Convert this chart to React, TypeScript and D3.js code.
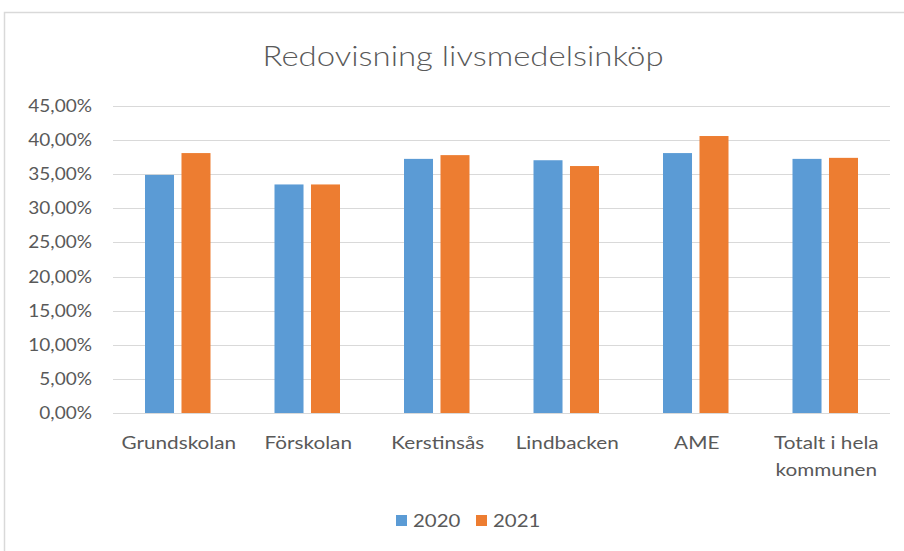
import React from "react";
import * as d3 from "d3";

const categories = ["Grundskolan", "Förskolan", "Kerstinsås", "Lindbacken", "AME", "Totalt i hela kommunen"];
const categoryLines = [["Grundskolan"], ["Förskolan"], ["Kerstinsås"], ["Lindbacken"], ["AME"], ["Totalt i hela", "kommunen"]];
const seriesNames = ["2020", "2021"];
const values2020 = [0.349, 0.335, 0.3725, 0.3705, 0.381, 0.3725];
const values2021 = [0.381, 0.335, 0.378, 0.362, 0.406, 0.374];
const yTicks = [0, 0.05, 0.1, 0.15, 0.2, 0.25, 0.3, 0.35, 0.4, 0.45];
const title = "Redovisning livsmedelsinköp";

const colors = ["#5B9BD5", "#ED7D31"];
const FONT = "Lato, 'Open Sans', sans-serif";

function SText(props: { x: number; y: number; sx: number; anchor: string; size: number; weight?: number; children: React.ReactNode }) {
  return (
    <g transform={`translate(${props.x},${props.y}) scale(${props.sx},1)`}>
      <text x={0} y={0} dy="0.35em" textAnchor={props.anchor as any} fontSize={props.size} fontWeight={props.weight ?? 400} fill="#595959">{props.children}</text>
    </g>
  );
}

export default function App() {
  const W = 904, H = 551;
  const left = 113, right = 890, top = 106, bottom = 413;
  const x0 = d3.scaleBand<string>().domain(categories).range([left, right]).padding(0);
  const x1 = d3.scaleBand<string>().domain(seriesNames).range([0, x0.bandwidth()]).paddingInner(0.205).paddingOuter(0.877);
  const y = d3.scaleLinear().domain([0, 0.45]).range([bottom, top]);
  const fmt = (v: number) => (v * 100).toFixed(2).replace(".", ",") + "%";
  const data = [values2020, values2021];

  return (
    <svg width={W} height={H} style={{ position: "absolute", left: 0, top: 0, background: "#fff" }} fontFamily={FONT}>
      <rect x={0} y={0} width={W} height={H} fill="#fff" />
      <rect x={4.5} y={12.5} width={1000} height={1000} fill="#fff" stroke="#D9D9D9" strokeWidth={1.5} />
      <SText x={463} y={57} sx={1.22} anchor="middle" size={27} weight={300}>{title}</SText>
      {yTicks.map((t) => (
        <g key={t}>
          <line x1={left} x2={right} y1={Math.round(y(t)) + 0.5} y2={Math.round(y(t)) + 0.5} stroke="#D9D9D9" strokeWidth={1.2} />
          <SText x={92} y={y(t)} sx={1.12} anchor="end" size={17}>{fmt(t)}</SText>
        </g>
      ))}
      {categories.map((c, i) => (
        <g key={c}>
          {seriesNames.map((s, j) => (
            <rect
              key={s}
              x={(x0(c) as number) + (x1(s) as number)}
              y={y(data[j][i])}
              width={x1.bandwidth()}
              height={y(0) - y(data[j][i])}
              fill={colors[j]}
            />
          ))}
          {categoryLines[i].map((ln, k) => (
            <SText key={k} x={(x0(c) as number) + x0.bandwidth() / 2 + 1} y={443 + k * 27} sx={1.22} anchor="middle" size={17}>{ln}</SText>
          ))}
        </g>
      ))}
      <line x1={left} x2={right} y1={413.5} y2={413.5} stroke="#D9D9D9" strokeWidth={1.2} />
      {seriesNames.map((s, j) => (
        <g key={s} transform={`translate(${j === 0 ? 396 : 476},0)`}>
          <rect x={0} y={515} width={11} height={11} fill={colors[j]} />
          <SText x={17} y={521} sx={1.2} anchor="start" size={17}>{s}</SText>
        </g>
      ))}
    </svg>
  );
}
